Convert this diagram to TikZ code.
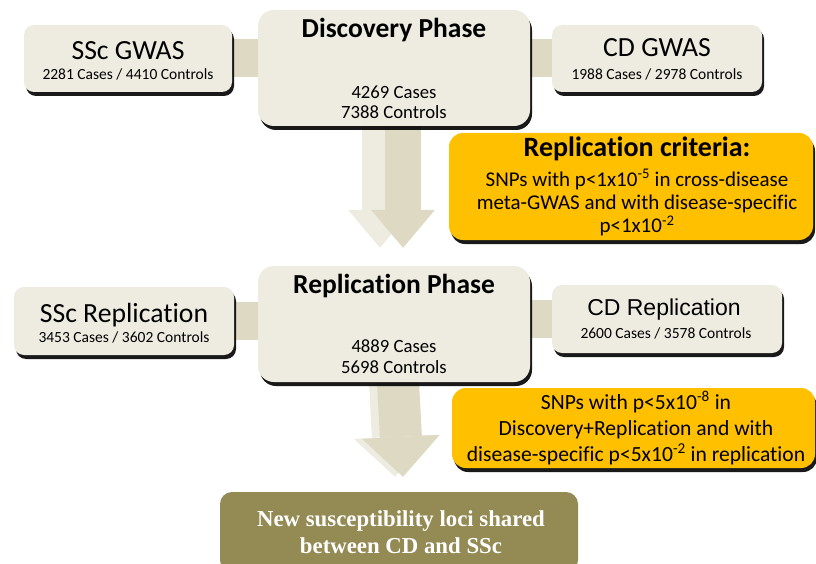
\documentclass[tikz,border=0pt]{standalone}
\usepackage{fontspec}
\setmainfont{Carlito}[Ligatures=NoCommon]
\newfontfamily\arialfont{Liberation Sans}
\newfontfamily\timesfont{Liberation Serif}
\usetikzlibrary{arrows.meta,shadows,calc,backgrounds}

\definecolor{boxtan}{HTML}{EEECE1}
\definecolor{bartan}{HTML}{DDD9C3}
\definecolor{critorange}{HTML}{FFC000}
\definecolor{lociolive}{HTML}{948A54}

\tikzset{
  box/.style={fill=boxtan, rounded corners=10pt, inner sep=0pt,
    drop shadow={shadow xshift=2pt, shadow yshift=-4pt, fill=black, opacity=.9}},
  phasebox/.style={box, rounded corners=16pt},
  critbox/.style={box, fill=critorange, rounded corners=14pt},
  locibox/.style={fill=lociolive, rounded corners=12pt, inner sep=0pt},
  bar/.style={draw=bartan, line width=38pt},
  arrowone/.style={line width=36pt, -{Triangle[width=64pt,length=38pt,line width=0pt]}},
  arrowtwo/.style={line width=42pt, -{Triangle[width=78pt,length=40pt,line width=0pt]}},
  txt/.style={anchor=base, inner sep=0pt, align=center},
  title/.style={txt, font=\fontsize{27.7}{30}\selectfont},
  small/.style={txt, font=\fontsize{15.5}{18}\selectfont},
  bold/.style={txt, font=\bfseries\fontsize{27.5}{30}\selectfont},
  numbers/.style={txt, font=\fontsize{18.7}{20.5}\selectfont},
  crittext/.style={txt, font=\fontsize{21}{23.5}\selectfont}
}

\begin{document}
\begin{tikzpicture}[x=1pt, y=-1pt]
  \useasboundingbox (0,0) rectangle (816,564);

  % boxes
  \node[box, minimum width=208pt, minimum height=67pt] (sscg) at (128,58.5) {};
  \node[phasebox, minimum width=272pt, minimum height=116pt] (disc) at (394,68) {};
  \node[box, minimum width=210pt, minimum height=67pt] (cdg) at (657,58.5) {};
  \node[critbox, minimum width=364pt, minimum height=107pt] (crit) at (631,186.5) {};
  \node[box, minimum width=220pt, minimum height=68pt] (sscr) at (124,321) {};
  \node[phasebox, minimum width=272pt, minimum height=116pt] (repl) at (394,324) {};
  \node[box, minimum width=230pt, minimum height=68pt] (cdr) at (667,319) {};
  \node[critbox, minimum width=363pt, minimum height=80pt] (sig) at (633.5,428) {};
  \node[locibox, minimum width=358pt, minimum height=80pt] (loci) at (399,532) {};

  % connectors behind the boxes
  \begin{pgfonlayer}{background}
    \draw[bar] (sscg.east) -- (sscg.east -| disc.west);
    \draw[bar] (cdg.west) -- (cdg.west -| disc.east);
    \draw[bar] (sscr.east) -- (sscr.east -| repl.west);
    \draw[bar] (cdr.west) -- (cdr.west -| repl.east);
    \draw[arrowone, draw=boxtan] ($(disc.south)+(-14,0)$) -- ($(repl.north)+(-14,-18)$);
    \draw[arrowone, draw=bartan] ($(disc.south)+(9,0)$) -- ($(repl.north)+(9,-18)$);
    \draw[arrowtwo, draw=boxtan] ($(repl.south)+(-4,0)$) -- ($(loci.north)+(-4,-15)$);
    \draw[arrowtwo, draw=bartan] ($(repl.south)+(4,0)$) -- ($(loci.north)+(4,-15)$);
  \end{pgfonlayer}

  % texts (multi-line nodes sit on their last baseline)
  \node[title] (sscgT) at (128,60) {SSc GWAS};
  \node[small] (sscgN) at (128,80) {2281 Cases / 4410 Controls};
  \node[bold] (discT) at (394,38) {Discovery Phase};
  \node[numbers] (discN) at (394,119) {4269 Cases\\7388 Controls};
  \node[title] (cdgT) at (657,57) {CD GWAS};
  \node[small] (cdgN) at (657,80) {1988 Cases / 2978 Controls};
  \node[bold, font=\bfseries\fontsize{28}{30}\selectfont] (critT) at (637,157) {Replication criteria:};
  \node[crittext] (critN) at (637,233)
    {SNPs with p<1x10\textsuperscript{-5} in cross-disease\\meta-GWAS and with disease-specific\\p<1x10\textsuperscript{-2}};
  \node[title] (sscrT) at (124,322) {SSc Replication};
  \node[small] (sscrN) at (124,342) {3453 Cases / 3602 Controls};
  \node[bold] (replT) at (394,293) {Replication Phase};
  \node[numbers] (replN) at (394,373) {4889 Cases\\5698 Controls};
  \node[txt, font=\arialfont\fontsize{23}{26}\selectfont] (cdrT) at (664,315) {CD Replication};
  \node[small] (cdrN) at (666,338) {2600 Cases / 3578 Controls};
  \node[crittext, font=\fontsize{21.6}{26}\selectfont] (sigN) at (636,461)
    {SNPs with p<5x10\textsuperscript{-8} in\\Discovery+Replication and with\\disease-specific p<5x10\textsuperscript{-2} in replication};
  \node[txt, text=white, font=\timesfont\bfseries\fontsize{22.8}{26.5}\selectfont] (lociN) at (401,553)
    {New susceptibility loci shared\\between CD and SSc};
\end{tikzpicture}
\end{document}
